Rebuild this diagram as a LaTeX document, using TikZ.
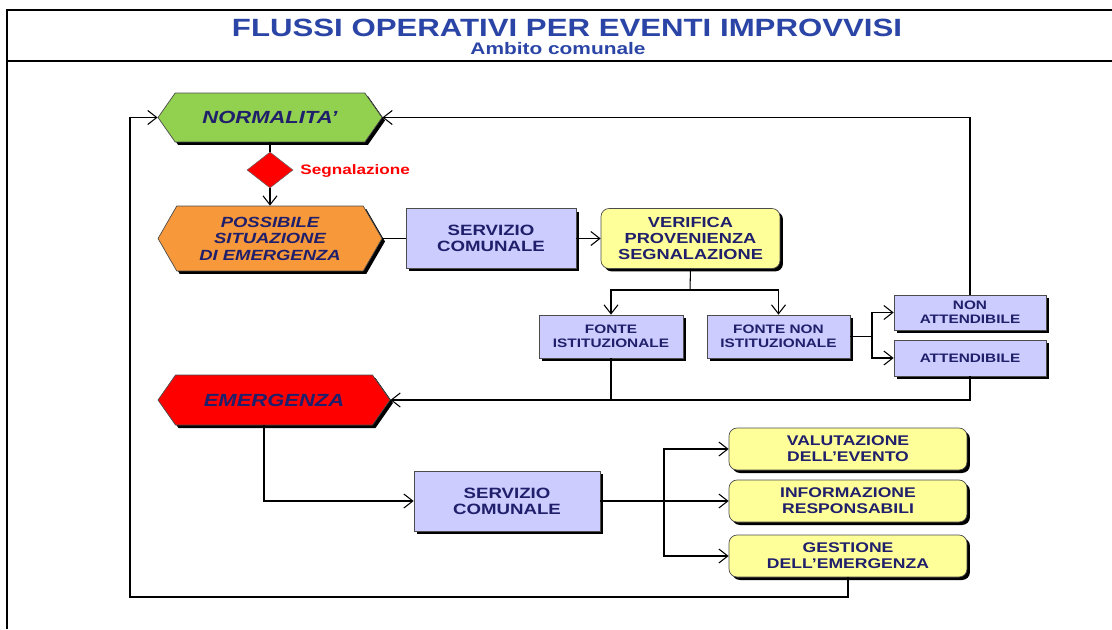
\documentclass[tikz,border=0pt]{standalone}
\usepackage{fontspec}
\setmainfont{Liberation Sans}[FakeStretch=1.25]
\usepackage{xcolor}
\usepackage{tikz}
\usetikzlibrary{shapes.symbols,shapes.geometric,shadows,arrows.meta}
\definecolor{titleBlue}{HTML}{2B45A6}
\definecolor{textNavy}{HTML}{1F1F6B}
\definecolor{boxBlue}{HTML}{CCCCFF}
\definecolor{noteYellow}{HTML}{FFFF99}
\definecolor{normGreen}{HTML}{92D050}
\definecolor{warnOrange}{HTML}{F7993A}
\definecolor{alarmRed}{HTML}{FF0000}

\tikzset{
    boxshadow/.style={drop shadow={shadow xshift=0.06cm, shadow yshift=-0.06cm, fill=black, opacity=1}},
    hexa/.style={signal, signal to=west and east, signal pointer angle=110, draw=black!70, line width=0.4pt,
        text=textNavy, align=center, inner sep=0pt, font=\fontsize{10}{11}\selectfont\bfseries\itshape, boxshadow},
    bluebox/.style={rectangle, draw=black!70, line width=0.4pt, fill=boxBlue, text=textNavy, align=center,
        inner sep=0pt, font=\fontsize{8.5}{9}\selectfont\bfseries, boxshadow},
    smallbox/.style={bluebox, font=\fontsize{7}{8}\selectfont\bfseries},
    yellowbox/.style={bluebox, fill=noteYellow, rounded corners=0.16cm, font=\fontsize{8}{9}\selectfont\bfseries},
    arr/.style={-{Straight Barb[length=1.8mm,width=2.8mm]}},
}

\begin{document}
\begin{tikzpicture}[x=0.02cm, y=-0.02cm, line width=0.6pt]
                \useasboundingbox (0,0) rectangle (1112,629);
                \draw[line width=1.1pt] (1112,10) -- (7,10) -- (7,629);
                \draw[line width=1.1pt] (7,61) -- (1112,61);
                \node[text=titleBlue, font=\fontsize{14.2}{15}\selectfont\bfseries] (title) at (567,28) {FLUSSI OPERATIVI PER EVENTI IMPROVVISI};
                \node[text=titleBlue, font=\fontsize{9.5}{10}\selectfont\bfseries] (subtitle) at (558,49) {Ambito comunale};

                \node[hexa, fill=normGreen, minimum width=4.48cm, minimum height=0.98cm] (normalita) at (270,117.5) {NORMALITA'};
                \node[diamond, fill=alarmRed, draw=black!60, line width=0.3pt, inner sep=0pt, minimum width=0.92cm, minimum height=0.72cm] (segn) at (270,170) {};
                \node[right, text=alarmRed, font=\fontsize{7.8}{8}\selectfont\bfseries] (segnlabel) at (294,171) {Segnalazione};
                \node[hexa, fill=warnOrange, signal pointer angle=120, minimum width=4.48cm, minimum height=1.3cm,
                    font=\fontsize{8.4}{9.4}\selectfont\bfseries\itshape] (possibile) at (270,238.5) {POSSIBILE\\SITUAZIONE\\DI EMERGENZA};
                \node[hexa, fill=alarmRed, minimum width=4.64cm, minimum height=1cm] (emerg) at (274,400) {EMERGENZA};

                \node[bluebox, minimum width=3.4cm, minimum height=1.2cm] (serv1) at (491,238.5) {SERVIZIO\\COMUNALE};
                \node[yellowbox, minimum width=3.58cm, minimum height=1.2cm, font=\fontsize{8.3}{9}\selectfont\bfseries] (verifica) at (690.5,238.5) {VERIFICA\\PROVENIENZA\\SEGNALAZIONE};
                \node[smallbox, minimum width=2.88cm, minimum height=0.86cm] (fonteist) at (611,336.5) {FONTE\\ISTITUZIONALE};
                \node[smallbox, minimum width=2.86cm, minimum height=0.86cm] (fontenon) at (778.5,336.5) {FONTE NON\\ISTITUZIONALE};
                \node[smallbox, minimum width=3.04cm, minimum height=0.7cm] (nonatt) at (970,312.5) {NON\\ATTENDIBILE};
                \node[smallbox, minimum width=3.04cm, minimum height=0.72cm] (att) at (970,358) {ATTENDIBILE};
                \node[bluebox, minimum width=3.72cm, minimum height=1.2cm] (serv2) at (507,501) {SERVIZIO\\COMUNALE};
                \node[yellowbox, minimum width=4.76cm, minimum height=0.84cm] (valut) at (848,449) {VALUTAZIONE\\DELL'EVENTO};
                \node[yellowbox, minimum width=4.76cm, minimum height=0.84cm] (inform) at (848,501) {INFORMAZIONE\\RESPONSABILI};
                \node[yellowbox, minimum width=4.76cm, minimum height=0.84cm] (gestione) at (848,556) {GESTIONE\\DELL'EMERGENZA};

                \coordinate (loopcorner) at (130,597);
                \coordinate (split) at (690,290);
                \coordinate (fork) at (872,336.5);
                \coordinate (branch) at (664,501);

                \draw[arr] (gestione.south) |- (loopcorner) |- (normalita.west);
                \draw[arr] (nonatt.north) |- (normalita.east);
                \draw (normalita.south) -- (segn.north);
                \draw[arr] (segn.south) -- (possibile.north);
                \draw (possibile.east) -- (serv1.west);
                \draw[arr] (serv1.east) -- (verifica.west);
                \draw (verifica.south) -- (split);
                \draw[arr] (split) -| (fonteist.north);
                \draw[arr] (split) -| (fontenon.north);
                \draw (fontenon.east) -- (fork);
                \draw[arr] (fork) |- (nonatt.west);
                \draw[arr] (fork) |- (att.west);
                \draw[arr] (fonteist.south) |- (emerg.east);
                \draw (att.south) |- (fonteist.south |- emerg.east);
                \draw[arr] ([xshift=-0.2cm]emerg.south) |- (serv2.west);
                \draw (serv2.east) -- (branch);
                \draw[arr] (branch) |- (valut.west);
                \draw[arr] (branch) -- (inform.west);
                \draw[arr] (branch) |- (gestione.west);
\end{tikzpicture}
\end{document}
